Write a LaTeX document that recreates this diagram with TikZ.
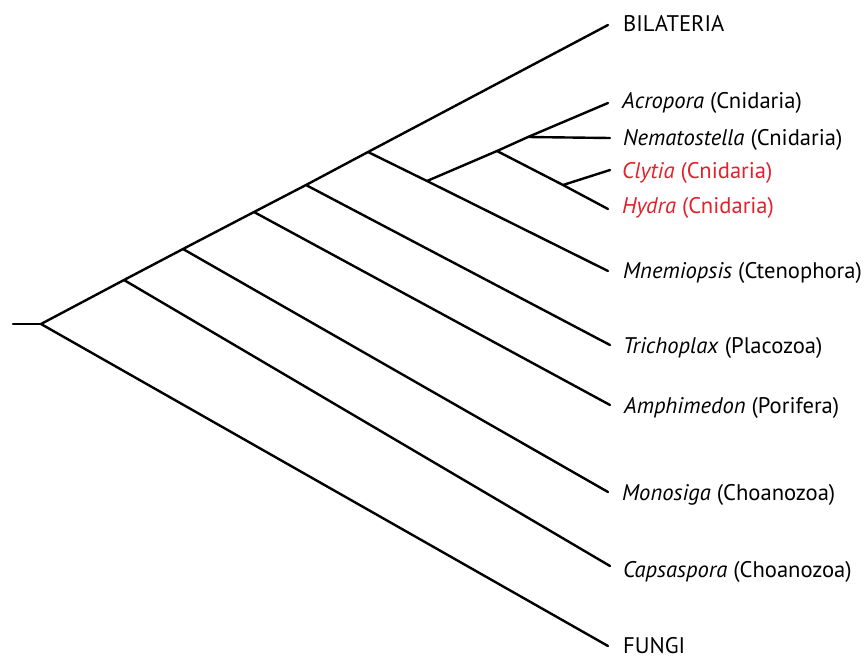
\documentclass[tikz,border=0pt]{standalone}
\usepackage{fontspec}
\setmainfont{PT Sans}
\definecolor{cladered}{RGB}{228,32,44}
\begin{document}
\begin{tikzpicture}[x=1pt,y=-1pt,
  branch/.style={line width=2.4pt,line cap=round,line join=round},
  taxon/.style={anchor=base west,inner sep=0pt,font=\fontsize{22.6}{25}\selectfont},
  redtaxon/.style={taxon,text=cladered}]
\useasboundingbox (0,0) rectangle (867,659);
% internal nodes
\coordinate (stub) at (13,324);
\coordinate (root) at (41,324);
\coordinate (n1) at (124,280);
\coordinate (n2) at (183,249);
\coordinate (n3) at (254,212);
\coordinate (n4) at (306,185);
\coordinate (n5) at (368,152);
\coordinate (n6) at (427,181);
\coordinate (n7) at (497,151);
\coordinate (n8) at (528,137);
\coordinate (n9) at (563,185);
% tips
\coordinate (tBil) at (608,25);
\coordinate (tAcr) at (608,103);
\coordinate (tNem) at (610,138);
\coordinate (tCly) at (610,170);
\coordinate (tHyd) at (608,209);
\coordinate (tMne) at (608,271);
\coordinate (tTri) at (610,345);
\coordinate (tAmp) at (610,405);
\coordinate (tMon) at (608,492);
\coordinate (tCap) at (610,566);
\coordinate (tFun) at (608,646);
% branches
\draw[branch] (stub) -- (root);
\draw[branch] (root) -- (n1) -- (n2) -- (n3) -- (n4) -- (n5) -- (tBil);
\draw[branch] (root) -- (tFun);
\draw[branch] (n1) -- (tCap);
\draw[branch] (n2) -- (tMon);
\draw[branch] (n3) -- (tAmp);
\draw[branch] (n4) -- (tTri);
\draw[branch] (n5) -- (n6) -- (tMne);
\draw[branch] (n6) -- (n7) -- (n8) -- (tAcr);
\draw[branch] (n8) -- (tNem);
\draw[branch] (n7) -- (n9) -- (tHyd);
\draw[branch] (n9) -- (tCly);
% labels
\node[taxon] (lBil) at (623,31) {BILATERIA};
\node[taxon] (lAcr) at (622,108) {\textit{Acropora} (Cnidaria)};
\node[taxon] (lNem) at (623,145) {\textit{Nematostella} (Cnidaria)};
\node[redtaxon] (lCly) at (622,178) {\textit{Clytia} (Cnidaria)};
\node[redtaxon] (lHyd) at (622,213) {\textit{Hydra} (Cnidaria)};
\node[taxon] (lMne) at (623,278) {\textit{Mnemiopsis} (Ctenophora)};
\node[taxon] (lTri) at (623,353) {\textit{Trichoplax} (Placozoa)};
\node[taxon] (lAmp) at (624,413) {\textit{Amphimedon} (Porifera)};
\node[taxon] (lMon) at (622,500) {\textit{Monosiga} (Choanozoa)};
\node[taxon] (lCap) at (623,577) {\textit{Capsaspora} (Choanozoa)};
\node[taxon] (lFun) at (623,653) {FUNGI};
\end{tikzpicture}
\end{document}
